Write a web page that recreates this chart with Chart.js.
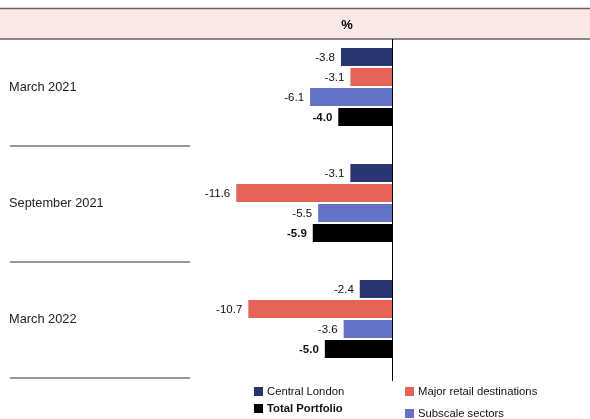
<!DOCTYPE html>
<html>
<head>
<meta charset="utf-8">
<script src="https://cdn.jsdelivr.net/npm/chart.js@4/dist/chart.umd.min.js"></script>
<style>
  html, body { margin: 0; padding: 0; background: #fff; }
  #wrap { width: 590px; height: 419px; position: relative; }
</style>
</head>
<body>
<div id="wrap"><canvas id="chart"></canvas></div>
<script>
const categories = ['March 2021', 'September 2021', 'March 2022'];
const seriesNames = ['Central London', 'Major retail destinations', 'Subscale sectors', 'Total Portfolio'];
const centralLondon = [-3.8, -3.1, -2.4];
const majorRetail = [-3.1, -11.6, -10.7];
const subscale = [-6.1, -5.5, -3.6];
const totalPortfolio = [-4.0, -5.9, -5.0];
const colours = ['#2a3470', '#e5645a', '#6473c7', '#000000'];

const FONT = 'Arial, "Liberation Sans", sans-serif';

// header band, separators, zero line, value labels and legend
const extras = {
    id: 'extras',
    beforeDraw(chart) {
        const ctx = chart.ctx;
        ctx.save();
        ctx.fillStyle = '#fbe9e7';
        ctx.fillRect(0, 8, 590, 31);
        ctx.strokeStyle = '#666';
        ctx.lineWidth = 1.5;
        ctx.beginPath();
        ctx.moveTo(0, 8.5); ctx.lineTo(590, 8.5);
        ctx.moveTo(0, 39); ctx.lineTo(590, 39);
        ctx.stroke();
        ctx.fillStyle = '#000';
        ctx.font = 'bold 13px ' + FONT;
        ctx.textAlign = 'center';
        ctx.textBaseline = 'middle';
        ctx.fillText('%', 347, 25);

        // separators under each group
        const y = chart.scales.y;
        ctx.strokeStyle = '#777';
        ctx.lineWidth = 1.5;
        for (let i = 0; i < categories.length; i++) {
            const yy = Math.round(y.getPixelForValue(i) + 59);
            ctx.beginPath();
            ctx.moveTo(10, yy); ctx.lineTo(190, yy);
            ctx.stroke();
        }
        ctx.restore();
    },
    afterDatasetsDraw(chart) {
        const ctx = chart.ctx;
        const x = chart.scales.x;
        ctx.save();
        // zero line
        const zx = Math.round(x.getPixelForValue(0)) + 0.5;
        ctx.strokeStyle = '#000';
        ctx.lineWidth = 1;
        ctx.beginPath();
        ctx.moveTo(zx, 39); ctx.lineTo(zx, 381);
        ctx.stroke();

        // value labels
        ctx.textAlign = 'right';
        ctx.textBaseline = 'middle';
        chart.data.datasets.forEach((ds, di) => {
            const meta = chart.getDatasetMeta(di);
            ctx.font = (di === 3 ? 'bold ' : '') + '11.5px ' + FONT;
            ctx.fillStyle = '#111';
            meta.data.forEach((bar, i) => {
                ctx.fillText(ds.data[i].toFixed(1), bar.x - 6, bar.y + 1);
            });
        });

        // legend
        const items = [
            { idx: 0, x: 254, y: 391 },
            { idx: 1, x: 405, y: 391 },
            { idx: 3, x: 254, y: 408 },
            { idx: 2, x: 405, y: 413 }
        ];
        items.forEach(it => {
            ctx.fillStyle = colours[it.idx];
            ctx.fillRect(it.x, it.y - 4, 9, 9);
            ctx.fillStyle = '#111';
            ctx.font = (it.idx === 3 ? 'bold ' : '') + '11.3px ' + FONT;
            ctx.textAlign = 'left';
            ctx.fillText(seriesNames[it.idx], it.x + 13, it.y + 1);
        });
        ctx.restore();
    }
};

const seriesData = [centralLondon, majorRetail, subscale, totalPortfolio];

new Chart(document.getElementById('chart'), {
    type: 'bar',
    data: {
        labels: categories,
        datasets: seriesData.map((d, i) => ({
            label: seriesNames[i],
            data: d,
            backgroundColor: colours[i],
            borderWidth: 0,
            categoryPercentage: 0.69,
            barPercentage: 0.9
        }))
    },
    options: {
        indexAxis: 'y',
        responsive: true,
        maintainAspectRatio: false,
        animation: false,
        layout: { padding: { left: 9, right: 198, top: 29, bottom: 42 } },
        plugins: { legend: { display: false }, tooltip: { enabled: false } },
        scales: {
            x: {
                min: -14, max: 0,
                display: false,
                grid: { display: false }
            },
            y: {
                grid: { display: false, drawTicks: false },
                border: { display: false },
                ticks: {
                    crossAlign: 'far',
                    color: '#222',
                    padding: 0,
                    font: { family: FONT, size: 12.8 }
                },
                afterFit(scale) { scale.width = 195; }
            }
        }
    },
    plugins: [extras]
});
</script>
</body>
</html>
